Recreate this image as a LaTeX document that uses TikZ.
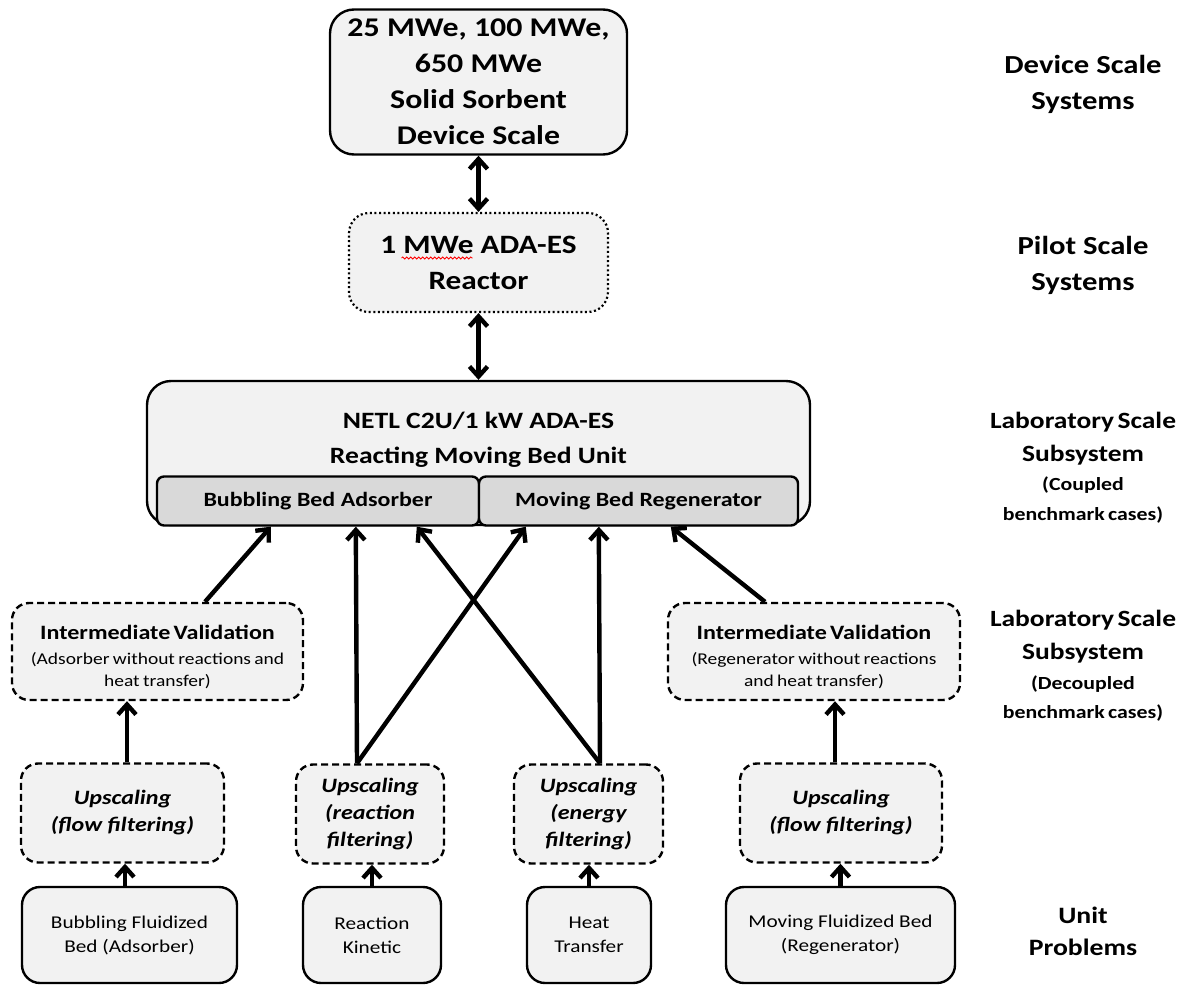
\documentclass[tikz,border=0pt]{standalone}
\usepackage{fontspec}
\setmainfont{Carlito}[FakeStretch=1.18]
\usetikzlibrary{arrows.meta,calc,decorations.pathmorphing}
\definecolor{boxfill}{HTML}{F2F2F2}
\definecolor{subfill}{HTML}{D9D9D9}
\tikzset{
  base/.style={draw=black, fill=boxfill, line width=2.4pt, rounded corners=20pt, inner sep=0pt, align=center},
  solidbox/.style={base},
  dotbox/.style={base, line width=2.2pt, dash pattern=on 2pt off 2.6pt},
  dashbox/.style={base, dash pattern=on 7pt off 4pt, line width=2.4pt, rounded corners=17pt},
  subbox/.style={draw=black, fill=subfill, line width=2.4pt, rounded corners=7pt, inner sep=0pt},
  barb/.tip={Straight Barb[length=10pt,width=18pt]},
  arr/.style={line width=4.4pt, -barb},
  darr/.style={line width=4.4pt, barb-barb},
  lbl/.style={align=center, inner sep=0pt},
  spell/.style={red, line width=0.8pt, decorate, decoration={snake, amplitude=1pt, segment length=4pt}}
}
\begin{document}
\begin{tikzpicture}[x=1pt,y=-1pt]
\useasboundingbox (0,0) rectangle (1185,985);

% top levels
\node[solidbox, rounded corners=24pt, minimum width=297pt, minimum height=145pt,
      font=\bfseries\fontsize{27}{36}\selectfont] (dev) at (478.5,82)
      {25 MWe, 100 MWe,\\650 MWe\\Solid Sorbent\\Device Scale};
\node[dotbox, minimum width=259pt, minimum height=99pt,
      font=\bfseries\fontsize{26.5}{36}\selectfont] (pil) at (478.5,262.5)
      {1 MWe ADA-ES\\Reactor};
\draw[spell] ($(pil.center)+(-77,-4.5)$) coordinate (sp1) -- ($(pil.center)+(-6,-4.5)$) coordinate (sp2);
\node[solidbox, rounded corners=24pt, minimum width=663pt, minimum height=144pt] (lab) at (478.5,453) {};
\node[lbl, font=\bfseries\fontsize{23.4}{35}\selectfont] (labt) at (478.5,440)
      {NETL C2U/1 kW ADA-ES\\Reacting Moving Bed Unit};
\node[subbox, minimum width=322pt, minimum height=49pt,
      font=\bfseries\fontsize{20.3}{24}\selectfont] (sa) at (318,501) {Bubbling Bed Adsorber};
\node[subbox, minimum width=319pt, minimum height=49pt,
      font=\bfseries\fontsize{20.3}{24}\selectfont] (sb) at (638.5,501) {Moving Bed Regenerator};

% intermediate validation
\tikzset{ivbox/.style={dashbox, minimum height=97pt, text width=286pt}}
\node[ivbox, minimum width=291pt] (ivl) at (157.5,651.5)
      {{\bfseries\fontsize{20.4}{26}\selectfont \rule{0pt}{26pt}Intermediate Validation\par}\vspace{3pt}
       \fontsize{16.5}{22}\selectfont (Adsorber without reactions and\\heat transfer)\par};
\node[ivbox, minimum width=292pt] (ivr) at (814,651.5)
      {{\bfseries\fontsize{20.4}{26}\selectfont \rule{0pt}{26pt}Intermediate Validation\par}\vspace{3pt}
       \fontsize{16.5}{22}\selectfont (Regenerator without reactions\\and heat transfer)\par};

% upscaling
\tikzset{upsc/.style={dashbox, minimum height=99pt, font=\bfseries\itshape\fontsize{20.4}{27}\selectfont}}
\node[upsc, minimum width=203pt] (ufl) at (122.5,813) {Upscaling\\(flow filtering)};
\node[upsc, minimum width=148pt] (ure) at (370,814) {Upscaling\\(reaction\\filtering)};
\node[upsc, minimum width=149pt] (uen) at (588.5,814) {Upscaling\\(energy\\filtering)};
\node[upsc, minimum width=202pt] (ufr) at (841,813) {Upscaling\\(flow filtering)};

% unit problems
\tikzset{unit/.style={solidbox, rounded corners=18pt, minimum height=96pt, font=\fontsize{18}{24}\selectfont}}
\node[unit, minimum width=215pt] (bfb) at (129.5,935) {Bubbling Fluidized\\Bed (Adsorber)};
\node[unit, minimum width=138pt] (rk) at (372,935) {Reaction\\Kinetic};
\node[unit, minimum width=124pt] (ht) at (589,935) {Heat\\Transfer};
\node[unit, minimum width=229pt] (mfb) at (840.5,935) {Moving Fluidized Bed\\(Regenerator)};

% right labels
\tikzset{rl/.style={lbl, text width=200pt}}
\node[lbl, font=\bfseries\fontsize{26}{36}\selectfont] (l1) at (1083,84) {Device Scale\\Systems};
\node[lbl, font=\bfseries\fontsize{26}{36}\selectfont] (l2) at (1083,265) {Pilot Scale\\Systems};
\node[rl] (l3) at (1083,467.5)
  {\bfseries{\fontsize{23.3}{33}\selectfont Laboratory Scale\\Subsystem\par}
   \fontsize{18.5}{29.5}\selectfont (Coupled\\benchmark cases)\par};
\node[rl] (l4) at (1083,666)
  {\bfseries{\fontsize{23.3}{33}\selectfont Laboratory Scale\\Subsystem\par}
   \fontsize{18.5}{29.5}\selectfont (Decoupled\\benchmark cases)\par};
\node[lbl, font=\bfseries\fontsize{23.5}{32}\selectfont] (l5) at (1083,931) {Unit\\Problems};

% connectors
\draw[darr] (dev.south) -- (pil.north);
\draw[darr] (pil.south) -- (lab.north);

\coordinate (ivlt) at ($(ivl.north)+(47.5,0)$);
\coordinate (ivrt) at ($(ivr.north)+(-49,0)$);
\coordinate (r0) at ($(ure.north)+(-13,0)$);
\coordinate (e0) at ($(uen.north)+(11.5,0)$);
\coordinate (ta1) at ($(sa.south west)+(115,0)$);
\coordinate (ta2) at ($(sa.south west)+(200,0)$);
\coordinate (ta3) at ($(sa.south west)+(261,0)$);
\coordinate (tb1) at ($(sb.south west)+(48,0)$);
\coordinate (tb2) at ($(sb.south west)+(121,0)$);
\coordinate (tb3) at ($(sb.south west)+(193,0)$);

\draw[arr] (ivlt) -- (ta1);
\draw[arr] (r0) -- (ta2);
\draw[arr] (r0) -- (tb1);
\draw[arr] (e0) -- (ta3);
\draw[arr] (e0) -- (tb2);
\draw[arr] (ivrt) -- (tb3);

\draw[arr] ($(ufl.north)+(4.5,0)$) coordinate (uflt) -- (uflt |- ivl.south);
\draw[arr] ($(ufr.north)+(-6,0)$) coordinate (ufrt) -- (ufrt |- ivr.south);

\draw[arr] ($(bfb.north)+(-4.5,0)$) coordinate (bfbt) -- (bfbt |- ufl.south);
\draw[arr] (rk.north) -- (rk.north |- ure.south);
\draw[arr] (ht.north) -- (ht.north |- uen.south);
\draw[arr] (mfb.north) -- (mfb.north |- ufr.south);
\end{tikzpicture}
\end{document}
